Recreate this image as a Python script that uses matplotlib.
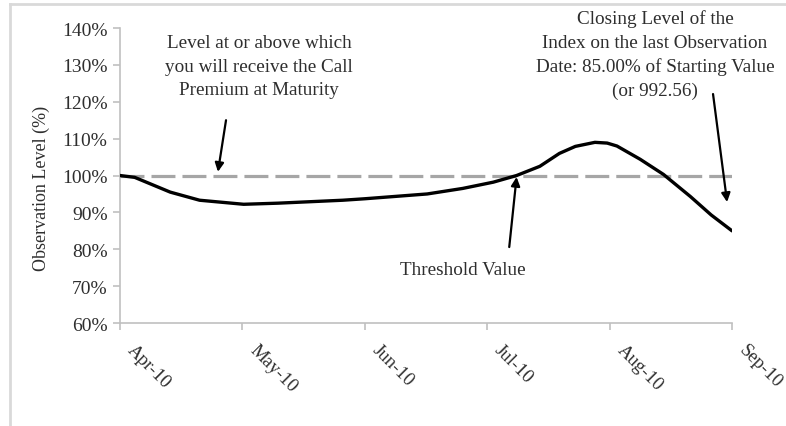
import matplotlib
matplotlib.use("Agg")
import matplotlib.pyplot as plt
from matplotlib.lines import Line2D
from matplotlib.transforms import ScaledTranslation

# valores (posição em meses a partir de Apr-10, nível em %)
meses = ["Apr-10", "May-10", "Jun-10", "Jul-10", "Aug-10", "Sep-10"]
pos_obs = [0.00, 0.12, 0.41, 0.65, 1.01, 1.29, 1.82, 2.00, 2.51, 2.80, 3.05,
           3.24, 3.43, 3.59, 3.72, 3.88, 3.98, 4.06, 4.25, 4.44, 4.66, 4.83, 5.00]
nivel_obs = [100.0, 99.5, 95.5, 93.3, 92.2, 92.5, 93.3, 93.7, 95.0, 96.5, 98.2,
             100.0, 102.5, 106.0, 107.9, 109.0, 108.8, 108.0, 104.4, 100.3, 94.3, 89.3, 85.0]
threshold = 100.0
yticks = [60, 70, 80, 90, 100, 110, 120, 130, 140]

plt.rcParams["font.family"] = ["Liberation Serif", "DejaVu Serif"]
cor_txt = "#2e2e2e"

fig = plt.figure(figsize=(7.86, 4.27), dpi=100)
ax = fig.add_axes([0.1527, 0.2412, 0.7786, 0.6908])

ax.plot([0, len(meses) - 1], [threshold, threshold], color="#a6a6a6", lw=2.3,
        dashes=(7.5, 2.2), zorder=2)
ax.plot(pos_obs, nivel_obs, color="black", lw=2.4, solid_capstyle="round",
        solid_joinstyle="round", zorder=3)

ax.set_xlim(0, len(meses) - 1)
ax.set_ylim(60, 140)
ax.set_yticks(yticks)
ax.set_yticklabels([f"{v}%" for v in yticks])
ax.set_xticks(range(len(meses)))
ax.set_xticklabels([])

# rótulos do eixo x girados, deslocados como no original
desloc = ax.get_xaxis_transform() + ScaledTranslation(0.10, -0.24, fig.dpi_scale_trans)
for i, m in enumerate(meses):
    ax.text(i, 0, m, transform=desloc, rotation=-45, ha="left", va="center",
            rotation_mode="anchor", fontsize=13.5, color=cor_txt, clip_on=False)

for s in ["top", "right"]:
    ax.spines[s].set_visible(False)
for s in ["left", "bottom"]:
    ax.spines[s].set_color("#c0c0c0")
    ax.spines[s].set_linewidth(1.2)
ax.tick_params(axis="both", colors="#c0c0c0", labelcolor=cor_txt, labelsize=14,
               length=5, width=1.2)
ax.tick_params(axis="y", pad=4)
ax.set_ylabel("Observation Level (%)", fontsize=13, color=cor_txt)
ax.yaxis.set_label_coords(-0.115, 0.46)

seta = dict(arrowstyle="-|>", color="black", lw=1.6, mutation_scale=13, shrinkA=0, shrinkB=0)
fs = 13.8

ax.annotate("", xy=(0.80, 101.0), xytext=(0.866, 115.0), arrowprops=seta)
ax.text(1.136, 129.7, "Level at or above which\nyou will receive the Call\nPremium at Maturity",
        ha="center", va="center", fontsize=fs, color=cor_txt, linespacing=1.5)

ax.annotate("", xy=(3.24, 99.6), xytext=(3.18, 80.6), arrowprops=seta)
ax.text(2.80, 74.6, "Threshold Value", ha="center", va="center", fontsize=fs, color=cor_txt)

ax.annotate("", xy=(4.96, 92.8), xytext=(4.845, 122.1), arrowprops=seta)
ax.text(4.37, 132.9, "Closing Level of the\nIndex on the last Observation\nDate: 85.00% of Starting Value\n(or 992.56)",
        ha="center", va="center", fontsize=fs, color=cor_txt, linespacing=1.5,
        clip_on=False)

# moldura cinza clara
fig.add_artist(Line2D([10 / 786, 1], [1 - 5 / 427, 1 - 5 / 427], color="#d9d9d9", lw=2))
fig.add_artist(Line2D([10 / 786, 10 / 786], [0, 1 - 5 / 427], color="#d9d9d9", lw=2))

fig.savefig("out.png", dpi=100)
